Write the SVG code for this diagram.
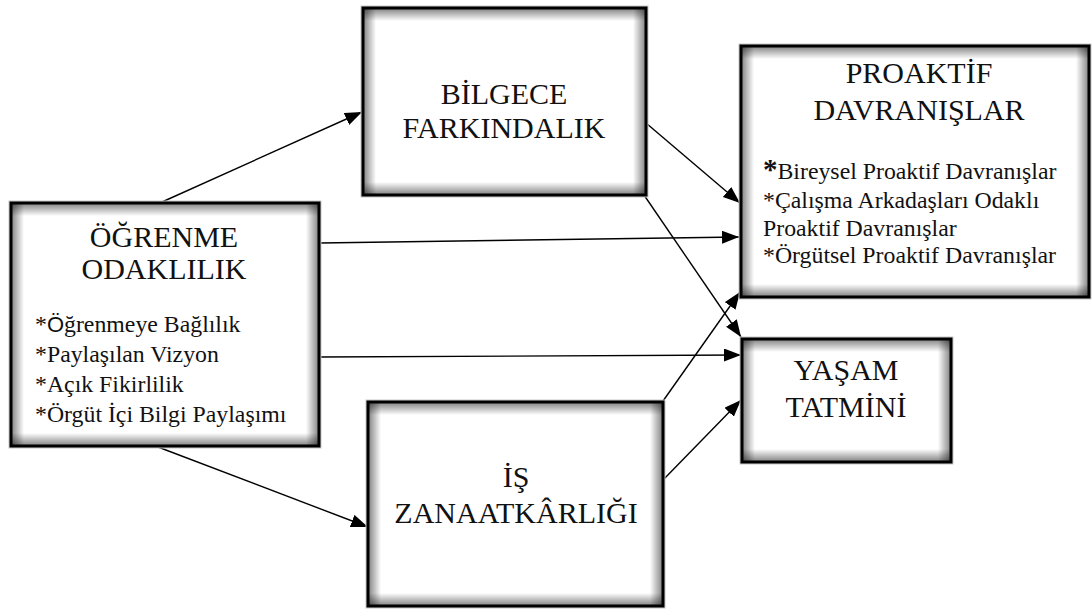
<svg xmlns="http://www.w3.org/2000/svg" width="1092" height="609" viewBox="0 0 1092 609">
  <defs>
    <!-- edge shading strips used inside every box -->
    <linearGradient id="shL" x1="0" y1="0" x2="1" y2="0">
      <stop offset="0" stop-color="#000" stop-opacity="0.5"/>
      <stop offset="1" stop-color="#000" stop-opacity="0"/>
    </linearGradient>
    <linearGradient id="shR" x1="1" y1="0" x2="0" y2="0">
      <stop offset="0" stop-color="#000" stop-opacity="0.5"/>
      <stop offset="1" stop-color="#000" stop-opacity="0"/>
    </linearGradient>
    <linearGradient id="shT" x1="0" y1="0" x2="0" y2="1">
      <stop offset="0" stop-color="#000" stop-opacity="0.5"/>
      <stop offset="1" stop-color="#000" stop-opacity="0"/>
    </linearGradient>
    <linearGradient id="shB" x1="0" y1="1" x2="0" y2="0">
      <stop offset="0" stop-color="#000" stop-opacity="0.5"/>
      <stop offset="1" stop-color="#000" stop-opacity="0"/>
    </linearGradient>
    <marker id="arrow" markerUnits="userSpaceOnUse" markerWidth="18" markerHeight="14" refX="17" refY="6.5" orient="auto">
      <path d="M0,0 L17,6.5 L0,13 z" fill="#000"/>
    </marker>
  </defs>
  <style>
    .halo { fill: none; stroke: #c8c8c8; stroke-width: 5; }
    .edge { fill: none; stroke: #000; stroke-width: 3; }
    .title { font-size: 30px; fill: #111; text-anchor: middle; }
    .item { font-size: 23.8px; fill: #111; }
    .link { stroke: #000; stroke-width: 1.4; fill: none; }
  </style>
  <rect width="1092" height="609" fill="#fff"/>

  <g id="connectors">
    <line class="link" marker-end="url(#arrow)" x1="162" y1="202" x2="362" y2="112"/>
    <line class="link" marker-end="url(#arrow)" x1="320" y1="243" x2="739" y2="237"/>
    <line class="link" marker-end="url(#arrow)" x1="320" y1="357" x2="741" y2="355"/>
    <line class="link" marker-end="url(#arrow)" x1="158" y1="447" x2="368" y2="527"/>
    <line class="link" marker-end="url(#arrow)" x1="646" y1="123" x2="740" y2="203"/>
    <line class="link" marker-end="url(#arrow)" x1="644" y1="195" x2="741" y2="337"/>
    <line class="link" marker-end="url(#arrow)" x1="663" y1="401" x2="740" y2="292"/>
    <line class="link" marker-end="url(#arrow)" x1="663" y1="480" x2="741" y2="400"/>
  </g>

  <g font-family="'Liberation Serif', 'Times New Roman', serif">
  <g id="ogrenme-odaklilik">
    <rect class="halo" x="11" y="203" width="308" height="243"/>
    <rect fill="#fff" x="11" y="203" width="308" height="243"/>
    <rect fill="url(#shL)" x="11" y="203" width="13" height="243"/>
    <rect fill="url(#shR)" x="306" y="203" width="13" height="243"/>
    <rect fill="url(#shT)" x="11" y="203" width="308" height="13"/>
    <rect fill="url(#shB)" x="11" y="433" width="308" height="13"/>
    <rect class="edge" x="11" y="203" width="308" height="243"/>
    <text class="title" x="164" y="247">ÖĞRENME</text>
    <text class="title" x="164" y="279">ODAKLILIK</text>
    <text class="item" x="35" y="332">*<tspan font-family="'Liberation Sans', Arial, sans-serif" font-size="22">Ö</tspan>ğrenmeye Bağlılık</text>
    <text class="item" x="35" y="362">*Paylaşılan Vizyon</text>
    <text class="item" x="35" y="392">*Açık Fikirlilik</text>
    <text class="item" x="35" y="422">*Örgüt İçi Bilgi Paylaşımı</text>
  </g>

  <g id="bilgece-farkindalik">
    <rect class="halo" x="363" y="8" width="283" height="187"/>
    <rect fill="#fff" x="363" y="8" width="283" height="187"/>
    <rect fill="url(#shL)" x="363" y="8" width="13" height="187"/>
    <rect fill="url(#shR)" x="633" y="8" width="13" height="187"/>
    <rect fill="url(#shT)" x="363" y="8" width="283" height="13"/>
    <rect fill="url(#shB)" x="363" y="182" width="283" height="13"/>
    <rect class="edge" x="363" y="8" width="283" height="187"/>
    <text class="title" x="504" y="104">BİLGECE</text>
    <text class="title" x="504" y="138">FARKINDALIK</text>
  </g>

  <g id="proaktif-davranislar">
    <rect class="halo" x="741" y="46" width="348" height="251"/>
    <rect fill="#fff" x="741" y="46" width="348" height="251"/>
    <rect fill="url(#shL)" x="741" y="46" width="13" height="251"/>
    <rect fill="url(#shR)" x="1076" y="46" width="13" height="251"/>
    <rect fill="url(#shT)" x="741" y="46" width="348" height="13"/>
    <rect fill="url(#shB)" x="741" y="284" width="348" height="13"/>
    <rect class="edge" x="741" y="46" width="348" height="251"/>
    <text class="title" x="919" y="83">PROAKTİF</text>
    <text class="title" x="919" y="120">DAVRANIŞLAR</text>
    <text class="item" x="763" y="179"><tspan font-size="29" font-weight="bold">*</tspan>Bireysel Proaktif Davranışlar</text>
    <text class="item" x="763" y="208">*Çalışma Arkadaşları Odaklı</text>
    <text class="item" x="763" y="236">Proaktif Davranışlar</text>
    <text class="item" x="763" y="263">*Örgütsel Proaktif Davranışlar</text>
  </g>

  <g id="yasam-tatmini">
    <rect class="halo" x="742" y="339" width="209" height="123"/>
    <rect fill="#fff" x="742" y="339" width="209" height="123"/>
    <rect fill="url(#shL)" x="742" y="339" width="13" height="123"/>
    <rect fill="url(#shR)" x="938" y="339" width="13" height="123"/>
    <rect fill="url(#shT)" x="742" y="339" width="209" height="13"/>
    <rect fill="url(#shB)" x="742" y="449" width="209" height="13"/>
    <rect class="edge" x="742" y="339" width="209" height="123"/>
    <text class="title" x="846" y="380">YAŞAM</text>
    <text class="title" x="846" y="417">TATMİNİ</text>
  </g>

  <g id="is-zanaatkarligi">
    <rect class="halo" x="368" y="402" width="295" height="204"/>
    <rect fill="#fff" x="368" y="402" width="295" height="204"/>
    <rect fill="url(#shL)" x="368" y="402" width="13" height="204"/>
    <rect fill="url(#shR)" x="650" y="402" width="13" height="204"/>
    <rect fill="url(#shT)" x="368" y="402" width="295" height="13"/>
    <rect fill="url(#shB)" x="368" y="593" width="295" height="13"/>
    <rect class="edge" x="368" y="402" width="295" height="204"/>
    <text class="title" x="516" y="487">İŞ</text>
    <text class="title" x="516" y="523">ZANAATKÂRLIĞI</text>
  </g>
  </g>
</svg>
